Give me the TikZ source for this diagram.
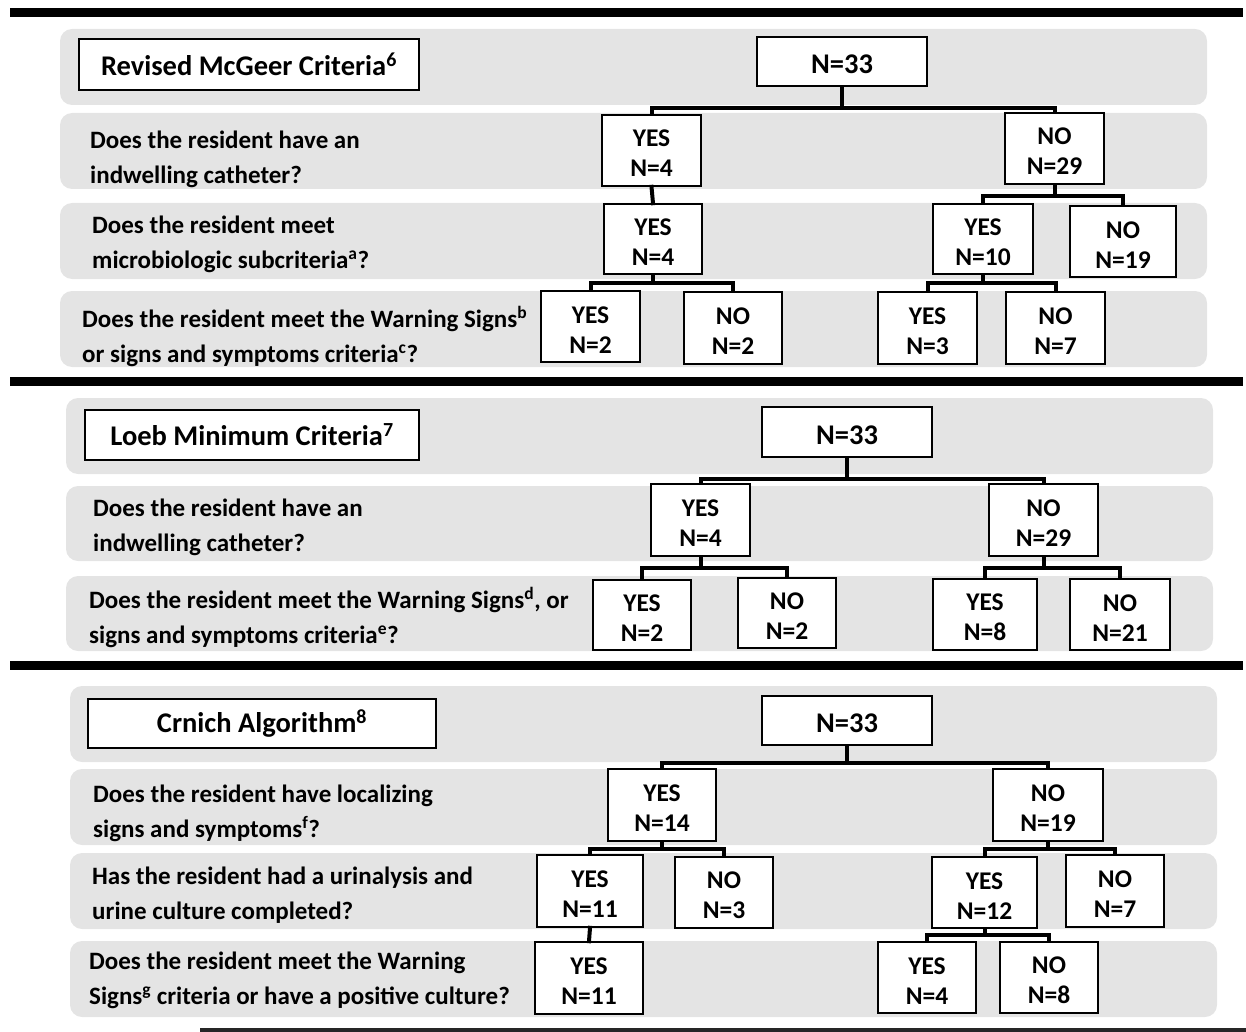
\documentclass[tikz,border=0pt]{standalone}
\usepackage{fontspec}
\setmainfont{Carlito}
\usepackage{xcolor}
\usepackage{tikz}
\usetikzlibrary{calc}
\definecolor{bandgray}{RGB}{228,228,228}
\newcommand{\tally}[2]{\rule{0pt}{23pt}#1\\N=#2}

\begin{document}
\begin{tikzpicture}[x=1pt,y=-1pt,
        band/.style={fill=bandgray, rounded corners=12pt},
        rule/.style={line width=9pt},
        link/.style={line width=4pt, line cap=rect},
        framed/.style={draw, line width=1.6pt, fill=white, align=center, inner sep=0pt},
        box/.style={framed, font=\fontsize{25.5}{30}\selectfont\bfseries},
        countbox/.style={framed, minimum width=170pt, font=\fontsize{28.5}{32}\selectfont\bfseries},
        titlebox/.style={framed, font=\fontsize{28.5}{32}\selectfont\bfseries},
        question/.style={anchor=west, align=left, inner sep=0pt,
            font=\fontsize{25}{35}\selectfont\bfseries}]
        \useasboundingbox (0,0) rectangle (1246,1032);
        % separating rules
        \draw[rule] (10,13) -- (1243,13);
        \draw[rule] (10,381) -- (1243,381);
        \draw[rule] (10,665) -- (1243,665);
        \draw[line width=4pt, black!85] (200,1030) -- (1246,1030);

        %% Revised McGeer
        \fill[band] (60,29) rectangle (1207,105);
        \fill[band] (60,113) rectangle (1207,189);
        \fill[band] (60,203) rectangle (1207,279);
        \fill[band] (60,291) rectangle (1207,367);
        \node[titlebox, minimum width=340pt, minimum height=51pt] (p1title) at (249,64.5) {Revised McGeer Criteria\textsuperscript{6}};
        \node[countbox, minimum height=49pt] (p1top) at (842,61.5) {\rule{0pt}{25pt}N=33};
        \node[box, minimum width=99pt, minimum height=71pt] (p1yes) at (651.5,150.5) {\tally{YES}{4}};
        \node[box, minimum width=99pt, minimum height=71pt] (p1no) at (1054.5,148.5) {\tally{NO}{29}};
        \node[box, minimum width=98pt, minimum height=70pt] (p1yesyes) at (653,239) {\tally{YES}{4}};
        \node[box, minimum width=100pt, minimum height=70pt] (p1noyes) at (983,239) {\tally{YES}{10}};
        \node[box, minimum width=106pt, minimum height=71pt] (p1nono) at (1123,241.5) {\tally{NO}{19}};
        \node[box, minimum width=99pt, minimum height=71pt] (p1a) at (590.5,326.5) {\tally{YES}{2}};
        \node[box, minimum width=98pt, minimum height=72pt] (p1b) at (733,328) {\tally{NO}{2}};
        \node[box, minimum width=99pt, minimum height=72pt] (p1c) at (927.5,328) {\tally{YES}{3}};
        \node[box, minimum width=99pt, minimum height=72pt] (p1d) at (1055.5,328) {\tally{NO}{7}};
        \node[question] (q11) at (90,159.5) {Does the resident have an\\indwelling catheter?};
        \node[question] (q12) at (92,244.5) {Does the resident meet\\microbiologic subcriteria\textsuperscript{a}?};
        \node[question] (q13) at (82,336) {Does the resident meet the Warning Signs\textsuperscript{b}\\or signs and symptoms criteria\textsuperscript{c}?};
        \coordinate (j11) at (0,108);
        \coordinate (j12) at (0,196);
        \coordinate (j13) at (0,283);
        \draw[link] (p1top.south) -- (p1top.south |- j11);
        \draw[link] (p1yes.north) |- (p1no.north |- j11) -- (p1no.north);
        \draw[link] (p1yes.south) -- (p1yesyes.north);
        \draw[link] (p1no.south) -- (p1no.south |- j12);
        \draw[link] (p1noyes.north) |- (p1nono.north |- j12) -- (p1nono.north);
        \draw[link] (p1yesyes.south) -- (p1yesyes.south |- j13);
        \draw[link] (p1a.north) |- (p1b.north |- j13) -- (p1b.north);
        \draw[link] (p1noyes.south) -- (p1noyes.south |- j13);
        \draw[link] (p1c.north) |- (p1d.north |- j13) -- (p1d.north);

        %% Loeb
        \fill[band] (66,398) rectangle (1213,474);
        \fill[band] (66,486) rectangle (1213,561);
        \fill[band] (66,576) rectangle (1213,651);
        \node[titlebox, minimum width=334pt, minimum height=50pt] (p2title) at (252,435) {Loeb Minimum Criteria\textsuperscript{7}};
        \node[countbox, minimum height=50pt] (p2top) at (847,432) {\rule{0pt}{25pt}N=33};
        \node[box, minimum width=99pt, minimum height=72pt] (p2yes) at (700.5,520) {\tally{YES}{4}};
        \node[box, minimum width=109pt, minimum height=72pt] (p2no) at (1043.5,520) {\tally{NO}{29}};
        \node[box, minimum width=98pt, minimum height=70pt] (p2a) at (642,615) {\tally{YES}{2}};
        \node[box, minimum width=98pt, minimum height=70pt] (p2b) at (787,613) {\tally{NO}{2}};
        \node[box, minimum width=104pt, minimum height=71pt] (p2c) at (985,614.5) {\tally{YES}{8}};
        \node[box, minimum width=100pt, minimum height=71pt] (p2d) at (1120,614.5) {\tally{NO}{21}};
        \node[question] (q21) at (93,527.5) {Does the resident have an\\indwelling catheter?};
        \node[question] (q22) at (89,617) {Does the resident meet the Warning Signs\textsuperscript{d}, or\\signs and symptoms criteria\textsuperscript{e}?};
        \coordinate (j21) at (0,479);
        \coordinate (j22) at (0,568);
        \draw[link] (p2top.south) -- (p2top.south |- j21);
        \draw[link] (p2yes.north) |- (p2no.north |- j21) -- (p2no.north);
        \draw[link] (p2yes.south) -- (p2yes.south |- j22);
        \draw[link] (p2a.north) |- (p2b.north |- j22) -- (p2b.north);
        \draw[link] (p2no.south) -- (p2no.south |- j22);
        \draw[link] (p2c.north) |- (p2d.north |- j22) -- (p2d.north);

        %% Crnich
        \fill[band] (70,686) rectangle (1217,762);
        \fill[band] (70,769) rectangle (1217,845);
        \fill[band] (70,853) rectangle (1217,929);
        \fill[band] (70,941) rectangle (1217,1017);
        \node[titlebox, minimum width=348pt, minimum height=49pt] (p3title) at (262,723.5) {Crnich Algorithm\textsuperscript{8}};
        \node[countbox, minimum height=49pt] (p3top) at (847,720.5) {\rule{0pt}{25pt}N=33};
        \node[box, minimum width=108pt, minimum height=72pt] (p3yes) at (662,805) {\tally{YES}{14}};
        \node[box, minimum width=110pt, minimum height=72pt] (p3no) at (1048,805) {\tally{NO}{19}};
        \node[box, minimum width=106pt, minimum height=72pt] (p3a) at (590,891) {\tally{YES}{11}};
        \node[box, minimum width=98pt, minimum height=71pt] (p3b) at (724,892.5) {\tally{NO}{3}};
        \node[box, minimum width=105pt, minimum height=71pt] (p3c) at (984.5,892.5) {\tally{YES}{12}};
        \node[box, minimum width=98pt, minimum height=72pt] (p3d) at (1115,891) {\tally{NO}{7}};
        \node[box, minimum width=108pt, minimum height=72pt] (p3e) at (589,978) {\tally{YES}{11}};
        \node[box, minimum width=98pt, minimum height=71pt] (p3f) at (927,977.5) {\tally{YES}{4}};
        \node[box, minimum width=98pt, minimum height=71pt] (p3g) at (1049,977.5) {\tally{NO}{8}};
        \node[question] (q31) at (93,813) {Does the resident have localizing\\signs and symptoms\textsuperscript{f}?};
        \node[question] (q32) at (92,895) {Has the resident had a urinalysis and\\urine culture completed?};
        \node[question] (q33) at (89,980.5) {Does the resident meet the Warning\\Signs\textsuperscript{g} criteria or have a positive culture?};
        \coordinate (j31) at (0,763);
        \coordinate (j32) at (0,849);
        \coordinate (j33) at (0,935);
        \draw[link] (p3top.south) -- (p3top.south |- j31);
        \draw[link] (p3yes.north) |- (p3no.north |- j31) -- (p3no.north);
        \draw[link] (p3yes.south) -- (p3yes.south |- j32);
        \draw[link] (p3a.north) |- (p3b.north |- j32) -- (p3b.north);
        \draw[link] (p3no.south) -- (p3no.south |- j32);
        \draw[link] (p3c.north) |- (p3d.north |- j32) -- (p3d.north);
        \draw[link] (p3a.south) -- (p3e.north);
        \draw[link] (p3c.south) -- (p3c.south |- j33);
        \draw[link] (p3f.north) |- (p3g.north |- j33) -- (p3g.north);
    \end{tikzpicture}
\end{document}
